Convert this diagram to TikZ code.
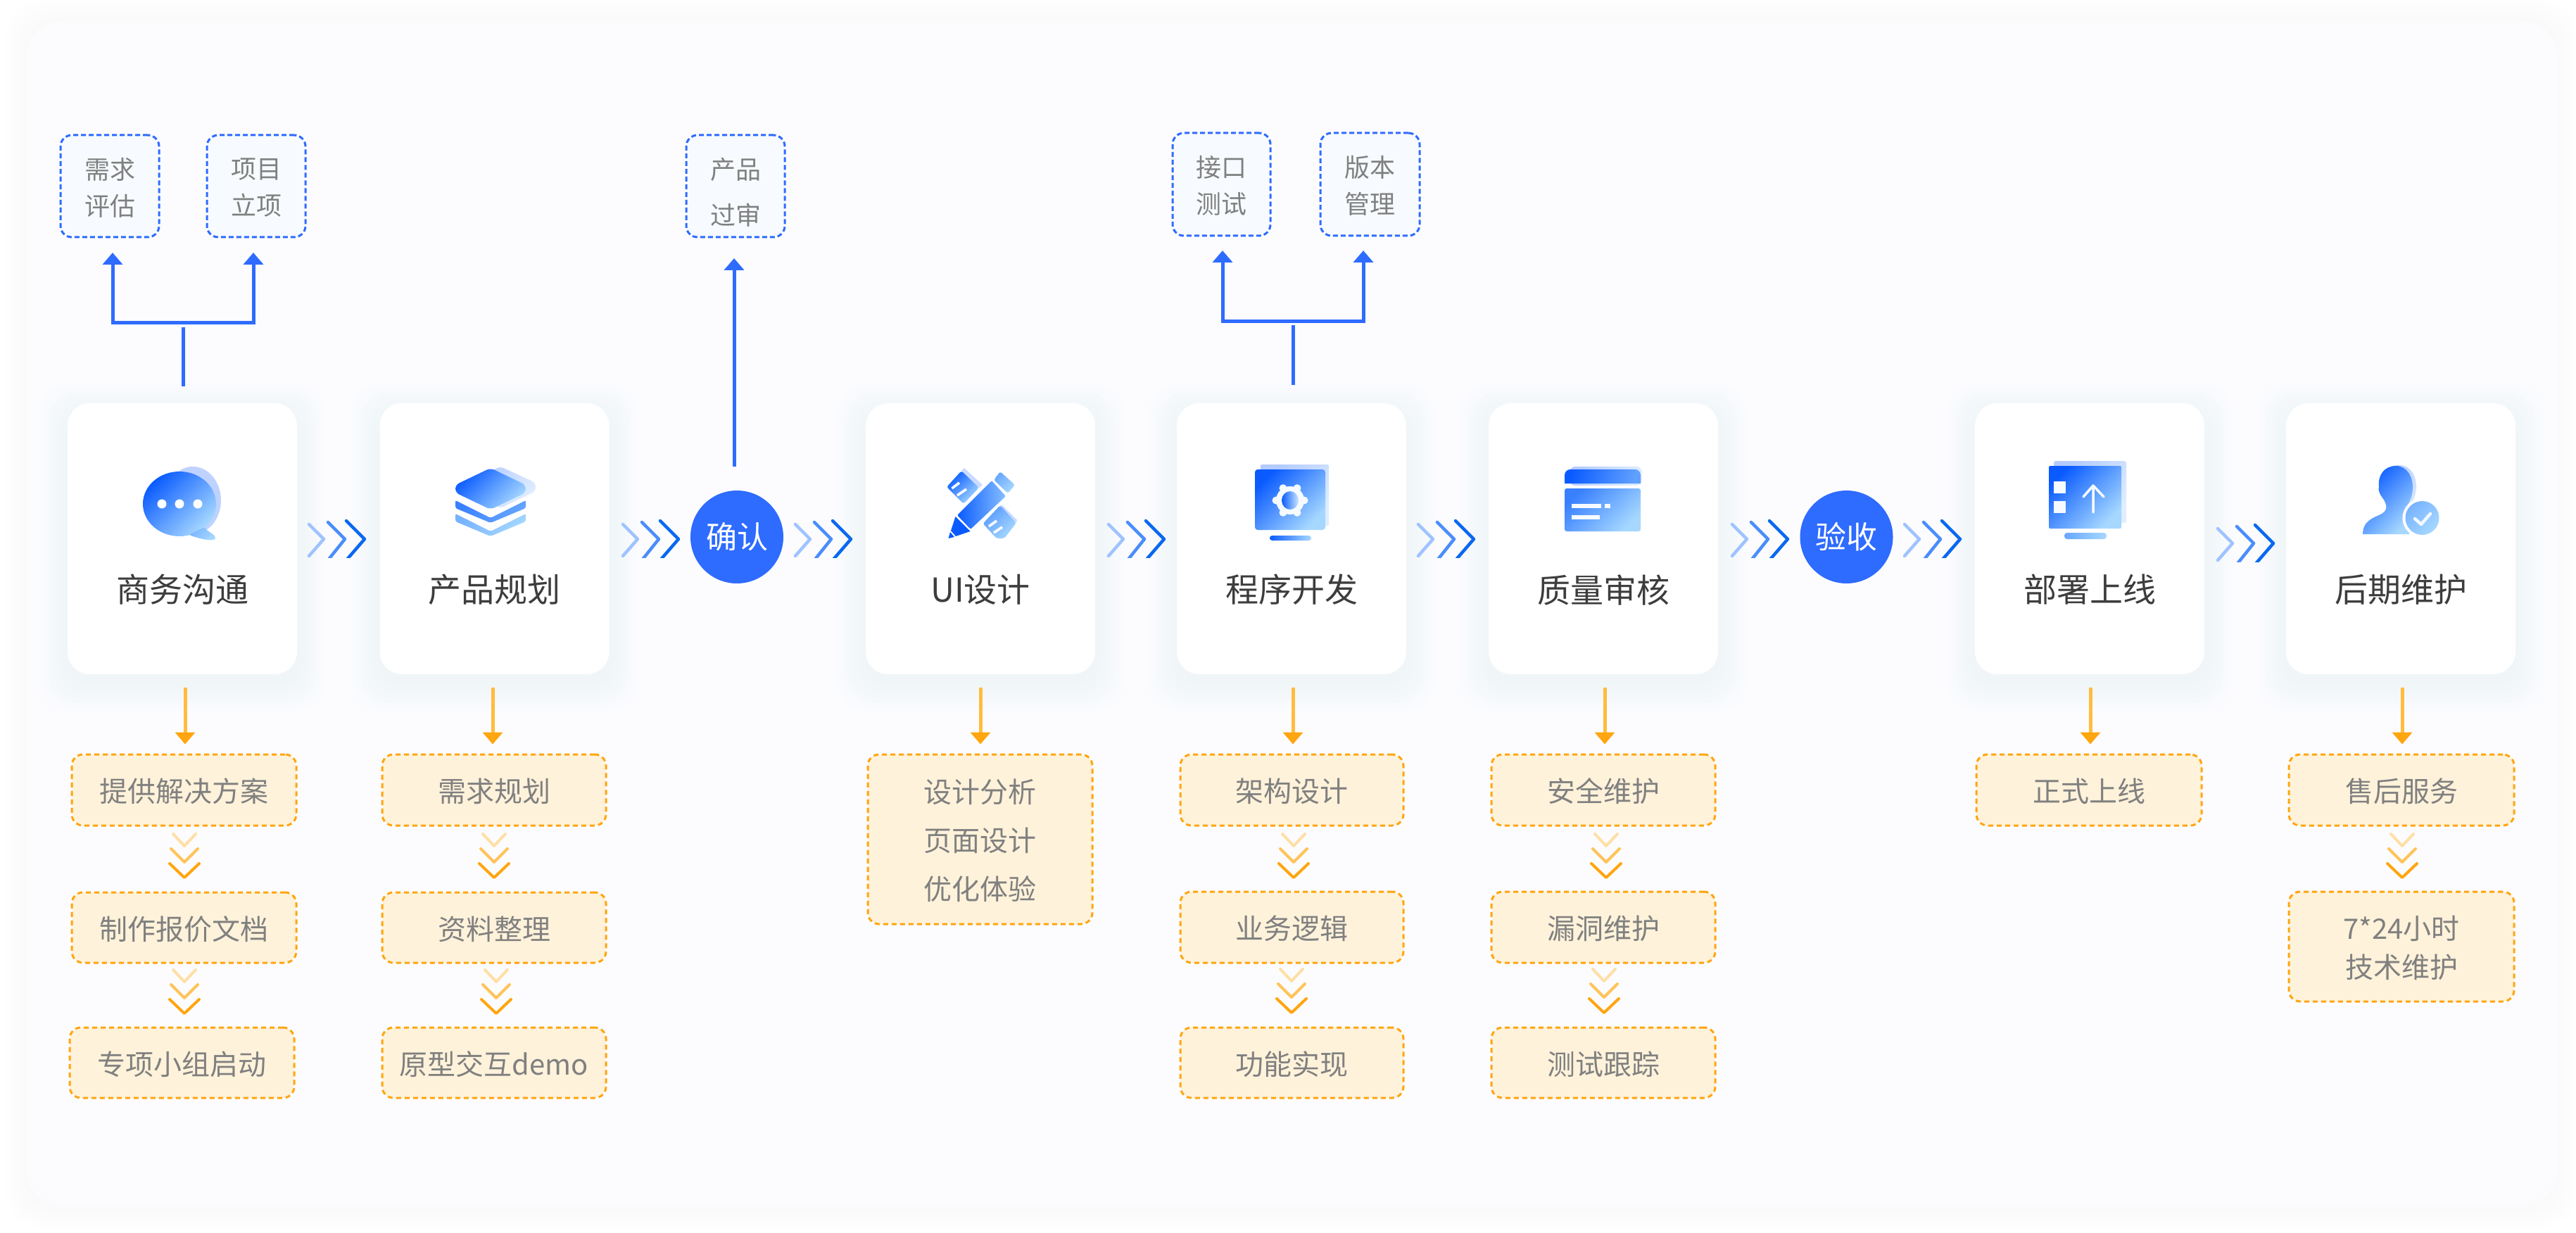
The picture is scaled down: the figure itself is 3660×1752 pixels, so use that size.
\documentclass[tikz,border=0pt]{standalone}
\usepackage{fontspec}
\setmainfont{Noto Sans CJK SC}
\usetikzlibrary{arrows.meta,calc}
\definecolor{gA}{HTML}{0A5BFF}
\definecolor{gB}{HTML}{A6D8FF}
\definecolor{lA}{HTML}{B4CBFF}
\definecolor{lB}{HTML}{E0EEFF}
\definecolor{bluemain}{HTML}{2E6BFF}
\definecolor{bluefill}{HTML}{F7FBFF}
\definecolor{orangemain}{HTML}{FFA50F}
\definecolor{orangestem}{HTML}{FFBC3E}
\definecolor{orangefill}{HTML}{FFF2DA}
\definecolor{graytext}{HTML}{808080}
\definecolor{titletext}{HTML}{3D3D3D}
\definecolor{panelfill}{HTML}{FCFCFF}
\definecolor{chA}{HTML}{9FC3FF}
\definecolor{chB}{HTML}{4A8DFB}
\definecolor{chC}{HTML}{0A68F0}
\definecolor{voA}{HTML}{FFDFA6}
\definecolor{voB}{HTML}{FFC35A}
\definecolor{voC}{HTML}{FFA50F}
\definecolor{shadowcard}{HTML}{C9D6F5}
\definecolor{shadowpanel}{HTML}{D8DDE8}
\tikzset{
  grad/.style={top color=gA,bottom color=gB,shading angle=45,draw=none},
  back/.style={top color=lA,bottom color=lB,shading angle=45,draw=none},
  cardbox/.style={rectangle,rounded corners=32pt,fill=white,minimum width=326pt,minimum height=385pt,inner sep=0pt},
  cardtitle/.style={font=\fontsize{47}{56}\selectfont,text=titletext,inner sep=0pt},
  orangebx/.style={rectangle,rounded corners=16pt,draw=orangemain,fill=orangefill,line width=3pt,dash pattern=on 7pt off 5pt,inner sep=0pt},
  orangebxt/.style={text=graytext,inner sep=0pt,align=center,yshift=-2pt,font=\fontsize{40}{55}\selectfont},
  orangetall/.style={orangebx},
  orangetallt/.style={orangebxt,font=\fontsize{40}{69}\selectfont},
  bluebx/.style={rectangle,rounded corners=16pt,draw=bluemain,fill=bluefill,line width=3pt,dash pattern=on 7pt off 4pt,inner sep=0pt},
  bluebxt/.style={text=graytext,inner sep=0pt,align=center,yshift=-2pt,font=\fontsize{36}{52}\selectfont},
  bluetall/.style={bluebx},
  bluetallt/.style={bluebxt,yshift=-7pt,font=\fontsize{36}{65}\selectfont},
  roundbx/.style={circle,fill=bluemain,text=white,minimum size=132pt,inner sep=0pt,font=\fontsize{44}{50}\selectfont},
  bline/.style={draw=bluemain,line width=5pt},
  otip/.tip={Triangle[width=28pt,length=17pt,color=orangemain]},
  btip/.tip={Triangle[width=28pt,length=17pt,color=bluemain]},
  oarrow/.style={draw=orangestem,line width=5pt,-{otip}},
  hcv/.style={line width=4.5pt,line cap=round,line join=round},
  vcv/.style={line width=4pt,line cap=round,line join=round},
}
\newcommand{\hchevs}[2]{%
  \begin{scope}
    \clip (#1-6,#2-34) rectangle (#1+90,#2+26);
    \draw[hcv,chA] (#1,#2-21) -- (#1+21,#2) -- (#1,#2+24);
    \draw[hcv,chB] (#1+27,#2-24) -- (#1+51,#2) -- (#1+27,#2+30);
    \draw[hcv,chC] (#1+53,#2-26) -- (#1+79,#2) -- (#1+53,#2+30);
  \end{scope}}
\newcommand{\vchevs}[2]{%
  \draw[vcv,voA] (#1-16,#2) -- (#1,#2+17) -- (#1+16,#2);
  \draw[vcv,voB] (#1-19,#2+21) -- (#1,#2+40) -- (#1+19,#2+21);
  \draw[vcv,voC] (#1-21,#2+42) -- (#1,#2+62) -- (#1+21,#2+42);}
\newcommand{\boxat}[7]{%
  \pgfmathsetmacro{\bcx}{(#3+#5)/2}\pgfmathsetmacro{\bcy}{(#4+#6)/2}%
  \pgfmathsetmacro{\bw}{#5-#3}\pgfmathsetmacro{\bh}{#6-#4}%
  \node[#1,minimum width=\bw pt,minimum height=\bh pt] (#2) at (\bcx,\bcy) {};
  \node[#1t] (#2t) at (\bcx,\bcy) {#7};}
\newcommand{\personp}{(3404,662) .. controls (3420,662) and (3429,678) .. (3428,695) .. controls (3427,710) and (3420,716) .. (3420,722) -- (3423,759) -- (3357,759) .. controls (3357,745) and (3365,738) .. (3380,732) .. controls (3392,727) and (3392,720) .. (3388,712) .. controls (3384,705) and (3378,700) .. (3380,692) .. controls (3378,675) and (3388,662) .. (3404,662) -- cycle}
\begin{document}
\begin{tikzpicture}[x=1pt,y=-1pt]
\useasboundingbox (0,0) rectangle (3660,1752);
\fill[white] (0,0) rectangle (3660,1752);
% panel
\foreach \e in {6,12,18,24,30}{
  \fill[shadowpanel,opacity=0.025,rounded corners=55pt] (38-\e,30-\e) rectangle (3633+\e,1712+\e+4);
}
\fill[panelfill,rounded corners=50pt] (38,30) rectangle (3633,1712);
% card shadows
\foreach \cx in {259,702.5,1393,1835,2278,2969,3411}{
  \foreach \e in {4,10,16,22,28,34,40}{
    \fill[shadowcard,opacity=0.022,rounded corners=42pt] (\cx-163-\e,573-\e+12) rectangle (\cx+163+\e,958+\e+12);
  }
}
% cards
\foreach \n/\cx/\t in {1/259/商务沟通,2/702.5/产品规划,3/1393/UI设计,4/1835/程序开发,5/2278/质量审核,6/2969/部署上线,7/3411/后期维护}{
  \node[cardbox] (c\n) at (\cx,765.5) {};
  \node[cardtitle] (ct\n) at (\cx,838) {\t};
}
% circles
\node[roundbx] (conf) at (1047,763) {确认};
\node[roundbx] (acpt) at (2623.5,763) {验收};
% horizontal chevrons
\hchevs{439}{766}
\hchevs{885}{766}
\hchevs{1130}{766}
\hchevs{1575}{766}
\hchevs{2015}{766}
\hchevs{2461}{766}
\hchevs{2706}{766}
\hchevs{3151}{772}
% blue boxes
\boxat{bluebx}{b1}{86}{192}{226}{337}{需求\\评估}
\boxat{bluebx}{b2}{294}{192}{434}{337}{项目\\立项}
\boxat{bluetall}{b3}{975}{192}{1115}{337}{产品\\过审}
\boxat{bluebx}{b4}{1666}{189}{1805}{335}{接口\\测试}
\boxat{bluebx}{b5}{1876}{189}{2017}{335}{版本\\管理}
% blue connectors
\coordinate (t1) at (160,359);
\coordinate (t2) at (360,359);
\coordinate (j1) at (260,458);
\coordinate (s1) at (260,465);
\draw[bline,{btip}-{btip}] (t1) |- (j1) -| (t2);
\draw[bline] ([xshift=1pt,yshift=24pt]c1.north) -- (s1);
\coordinate (t3) at (1043,367);
\draw[bline,-{btip}] ([xshift=-4pt,yshift=34pt]conf.north) -- (t3);
\coordinate (t4) at (1737,356);
\coordinate (t5) at (1937,356);
\coordinate (j2) at (1837,456);
\coordinate (s2) at (1837,462);
\draw[bline,{btip}-{btip}] (t4) |- (j2) -| (t5);
\draw[bline] ([xshift=2pt,yshift=26pt]c4.north) -- (s2);
% orange boxes
\boxat{orangebx}{o1}{102}{1072}{421}{1173}{提供解决方案}
\boxat{orangebx}{o12}{102}{1268}{421}{1368}{制作报价文档}
\boxat{orangebx}{o13}{99}{1460}{418}{1560}{专项小组启动}
\boxat{orangebx}{o2}{543}{1072}{861}{1173}{需求规划}
\boxat{orangebx}{o22}{543}{1268}{861}{1368}{资料整理}
\boxat{orangebx}{o23}{543}{1460}{861}{1560}{原型交互demo}
\boxat{orangetall}{o3}{1233}{1072}{1552}{1313}{设计分析\\页面设计\\优化体验}
\boxat{orangebx}{o4}{1677}{1072}{1994}{1173}{架构设计}
\boxat{orangebx}{o42}{1677}{1267}{1994}{1368}{业务逻辑}
\boxat{orangebx}{o43}{1677}{1460}{1994}{1560}{功能实现}
\boxat{orangebx}{o5}{2119}{1072}{2437}{1173}{安全维护}
\boxat{orangebx}{o52}{2119}{1267}{2437}{1368}{漏洞维护}
\boxat{orangebx}{o53}{2119}{1460}{2437}{1560}{测试跟踪}
\boxat{orangebx}{o6}{2808}{1072}{3128}{1173}{正式上线}
\boxat{orangebx}{o7}{3252}{1072}{3572}{1173}{售后服务}
\boxat{orangebx}{o72}{3252}{1267}{3572}{1423}{7*24小时\\技术维护}
% orange arrows
\foreach \n/\dx in {1/4,2/-2.5,3/0,4/2,5/2,6/1,7/2}{
  \coordinate (as\n) at ([xshift=\dx pt,yshift=-19pt]c\n.south);
  \coordinate (ot\n) at ([yshift=13pt]o\n.north);
  \draw[oarrow] (as\n) -- (as\n |- ot\n);
}
% vertical chevrons
\vchevs{262}{1185}\vchevs{262}{1378}
\vchevs{702}{1185}\vchevs{705}{1378}
\vchevs{1838}{1185}\vchevs{1835}{1377}
\vchevs{2282}{1185}\vchevs{2279}{1377}
\vchevs{3413}{1185}
% icon 1: chat
\fill[lA,opacity=.85] (274,711) ellipse [x radius=40,y radius=48];
\shade[grad] (255,716) ellipse [x radius=52,y radius=46];
\shade[top color=gB!70!gA,bottom color=gB,shading angle=45,draw=none,rounded corners=3pt] (268,760) .. controls (280,764) and (292,768) .. (306,767) -- (306,762) .. controls (300,757) and (294,754) .. (291,749) -- cycle;
\foreach \dx in {230,255,281}{\fill[white] (\dx,716) ellipse [x radius=6.5,y radius=6.5];}
% icon 2: layers
\shade[back,rounded corners=5pt] (711,663) -- (761,686) -- (761,698) -- (711,722) -- (661,698) -- (661,686) -- cycle;
\shade[grad,rounded corners=6pt] (697,665) -- (747,689) -- (747,700) -- (697,724) -- (647,700) -- (647,689) -- cycle;
\shade[top color=gA!70!gB,bottom color=gB!60!gA,shading angle=45,draw=none,rounded corners=2pt] (647,711) -- (697,736) -- (747,711) -- (747,722) -- (697,743) -- (647,722) -- cycle;
\shade[top color=gA!30!gB,bottom color=gB,shading angle=45,draw=none,rounded corners=2pt] (647,730) -- (697,755) -- (747,730) -- (747,741) -- (697,762) -- (647,741) -- cycle;
% icon 3: pencil and rulers
\fill[lA!70!white] (1370,665) -- (1396,689) -- (1391,693) -- (1366,669) -- cycle;
\shade[grad,rounded corners=3pt] (1366,669) -- (1391,693) -- (1369,716) -- (1345,692) -- cycle;
\draw[white,line width=3.5pt] (1352.5,694) -- (1363,686) (1360,704) -- (1373,695);
\fill[lA!70!white] (1424,718) -- (1445,739) -- (1444,743) -- (1421,718) -- cycle;
\shade[top color=gA!50!gB,bottom color=gB,shading angle=45,draw=none,rounded corners=3pt] (1421,718) -- (1444,743) -- (1427,765) -- (1416,765) -- (1396.5,744) -- cycle;
\draw[white,line width=3.5pt] (1405,748) -- (1416,740) (1412,757) -- (1424,749);
\shade[top color=gA!40!gB,bottom color=gB,shading angle=45,draw=none,rounded corners=3pt] (1412,682) -- (1421,670) -- (1442,689) -- (1432,701) -- cycle;
\shade[left color=gA,right color=gB!80!gA,draw=none,rounded corners=2pt] (1409,683) -- (1429,705) -- (1379,752) -- (1360,732) -- cycle;
\fill[gA] (1357.5,734) -- (1378.5,755) -- (1358,762) -- (1351,754) -- cycle;
\fill[gA] (1350,756) -- (1356,763) -- (1347.5,765) -- cycle;
% icon 4: gear screen
\shade[back,rounded corners=2pt] (1791,660) rectangle (1888,747);
\shade[grad,rounded corners=4pt] (1783,667) rectangle (1883,753);
\shade[left color=gA,right color=gB,draw=none,rounded corners=3.5pt] (1804,761) rectangle (1863,768);
\foreach \a in {0,60,120,180,240,300}{\fill[white!90!gB] ($(1833,711)+(\a:20)$) circle (5.5);}
\fill[white!90!gB] (1833,711) circle (20);
\shade[left color=gA,right color=gB!60!white,draw=none] (1833,711) ellipse [x radius=12,y radius=13];
% icon 5: card
\shade[back,rounded corners=8pt] (2230,663) rectangle (2333,690);
\shade[top color=gA,bottom color=gA!45!gB,shading angle=75,draw=none,rounded corners=8pt] (2223,687) -- (2223,667) -- (2331,667) [sharp corners] -- (2331,687) -- cycle;
\shade[top color=gA!70!gB,bottom color=gB,shading angle=45,draw=none,rounded corners=3pt] (2223,694) rectangle (2331,755);
\fill[white!90!gB] (2233,716) rectangle (2275,722);
\fill[white!90!gB] (2280,716) rectangle (2288,722);
\fill[white!90!gB] (2233,732) rectangle (2273,738);
% icon 6: upload
\shade[back,rounded corners=3pt] (2918,655) rectangle (3021,743);
\shade[grad,rounded corners=2pt] (2911,662) rectangle (3014,751);
\shade[left color=gB!60!gA,right color=gB,draw=none,rounded corners=4pt] (2933,757) rectangle (2993,766);
\fill[white!90!gB] (2918,684) rectangle (2935,701);
\fill[white!90!gB] (2918,712) rectangle (2935,729);
\draw[white!90!gB,line width=3.5pt,line cap=round,line join=round] (2960,706) -- (2974,690) -- (2989,706) (2974,690) -- (2974,728);
% icon 7: person
\begin{scope}[xshift=5pt,yshift=1pt]
  \shade[back] \personp;
\end{scope}
\shade[grad] \personp;
\fill[white] (3441.5,736) circle (28);
\shade[top color=gB!70!gA,bottom color=gB,shading angle=45,draw=none] (3441.5,736) circle (24);
\draw[white!85!gB,line width=4.5pt,line join=round,line cap=round] (3431,737) -- (3440,745) -- (3453,730);
\end{tikzpicture}
\end{document}
